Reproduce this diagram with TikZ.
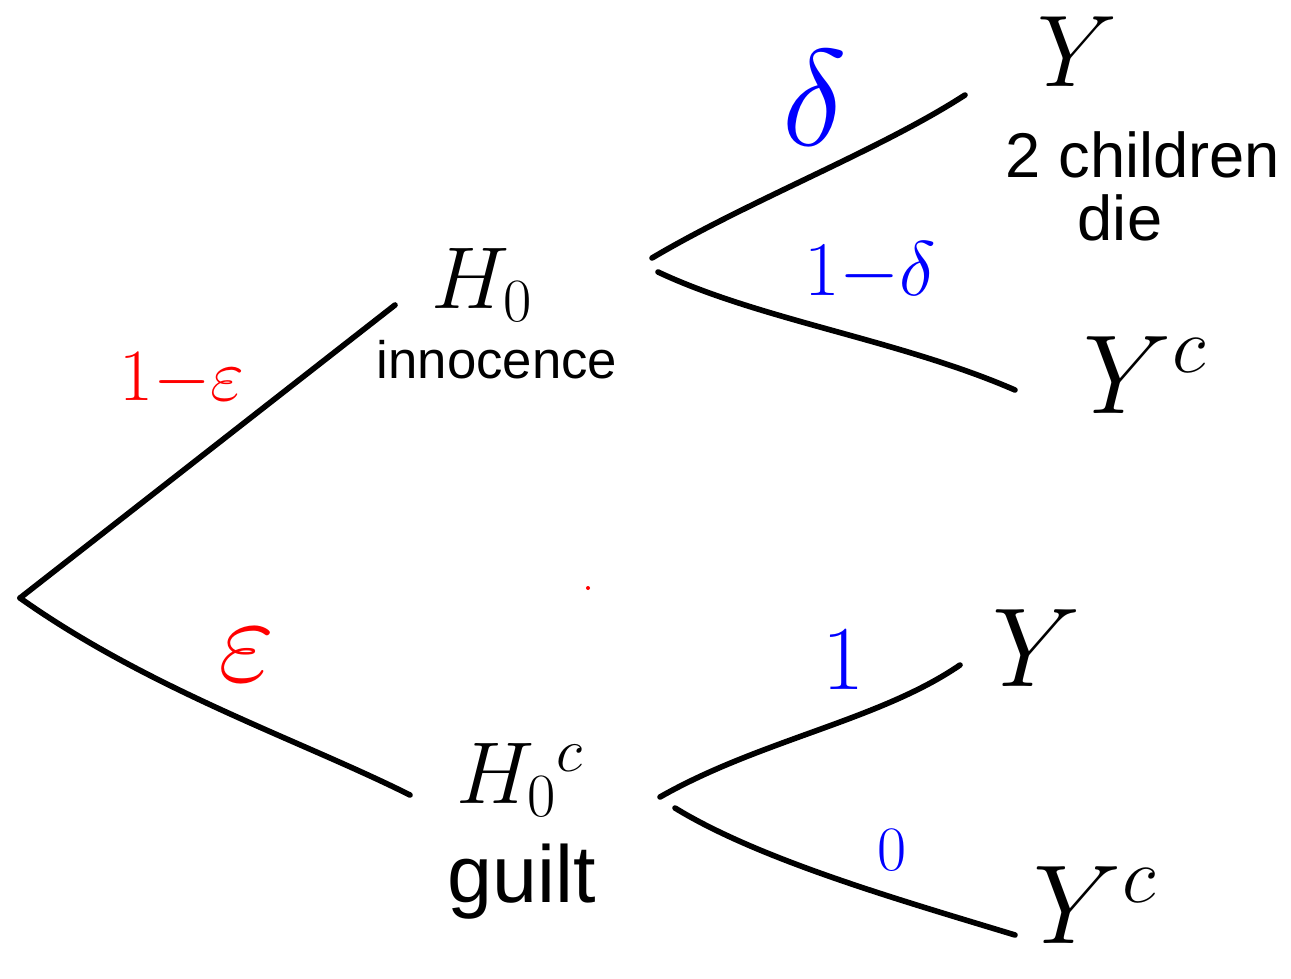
\RequirePackage{fix-cm}
\documentclass[tikz,border=0pt]{standalone}
\usepackage{fontspec}
\setmainfont{Liberation Sans}
\usepackage{tikz}
\usetikzlibrary{positioning}

\begin{document}
\begin{tikzpicture}[
  x=0.02cm, y=-0.02cm,
  branch/.style={line width=3.2pt, line cap=round, color=black},
  hyp/.style={inner sep=0pt, font=\fontsize{50}{54}\selectfont},
  word/.style={inner sep=0pt, font=\fontsize{30}{34}\selectfont},
  leaf/.style={inner sep=0pt, font=\fontsize{64}{68}\selectfont},
  pred/.style={inner sep=0pt, text=red},
  pblue/.style={inner sep=0pt, text=blue},
]
\useasboundingbox (0,0) rectangle (1291,978);
%% Branch ends
\coordinate (root) at (20,598);
\coordinate (h0in)  at (395,305);
\coordinate (hcin)  at (410,795);
\coordinate (h0up)  at (652,258);
\coordinate (h0dn)  at (658,272);
\coordinate (hcup)  at (660,797);
\coordinate (hcdn)  at (675,808);
\coordinate (y1in)  at (965,95);
\coordinate (y2in)  at (1015,390);
\coordinate (y3in)  at (960,665);
\coordinate (y4in)  at (1015,935);
%% Hypotheses
\node[hyp] (H0) at (482,285) {$H_0$};
\node[word] (inno) at (497,360) {innocence};
\node[hyp] (H0c) at (520,780) {$H_0{}^{c}$};
\node[word, font=\fontsize{46}{50}\selectfont] (guilt) at (522,882) {guilt};
%% Outcomes
\node[leaf, font=\fontsize{58}{62}\selectfont] (Y1) at (1078,52) {$Y$};
\node[word, font=\fontsize{36}{40}\selectfont] (kids) at (1143,155) {2 children};
\node[word, font=\fontsize{36}{40}\selectfont] (die) at (1120,218) {die};
\node[leaf] (Y2) at (1145,375) {$Y^c$};
\node[leaf] (Y3) at (1037,648) {$Y$};
\node[leaf] (Y4) at (1095,905) {$Y^c$};
%% Branches
\draw[branch] (root) -- (h0in);
\draw[branch] (root) .. controls (150,690) and (300,740) .. (hcin);
\draw[branch] (h0up) .. controls (750,200) and (880,150) .. (y1in);
\draw[branch] (h0dn) .. controls (760,320) and (900,340) .. (y2in);
\draw[branch] (hcup) .. controls (760,740) and (880,720) .. (y3in);
\draw[branch] (hcdn) .. controls (760,860) and (900,900) .. (y4in);
\fill[red] (588,588) circle (2);
%% Probabilities
\node[pred, font=\fontsize{42}{46}\selectfont] (p1) at (182,380) {$1{-}\varepsilon$};
\node[pred, font=\fontsize{70}{74}\selectfont] (p2) at (247,655) {$\varepsilon$};
\node[pblue, font=\fontsize{78}{82}\selectfont] (d1) at (815,98) {$\delta$};
\node[pblue, font=\fontsize{44}{48}\selectfont] (d2) at (870,272) {$1{-}\delta$};
\node[pblue, font=\fontsize{52}{56}\selectfont] (q1) at (843,660) {$1$};
\node[pblue, font=\fontsize{36}{40}\selectfont] (q0) at (892,850) {$0$};
\end{tikzpicture}
\end{document}
